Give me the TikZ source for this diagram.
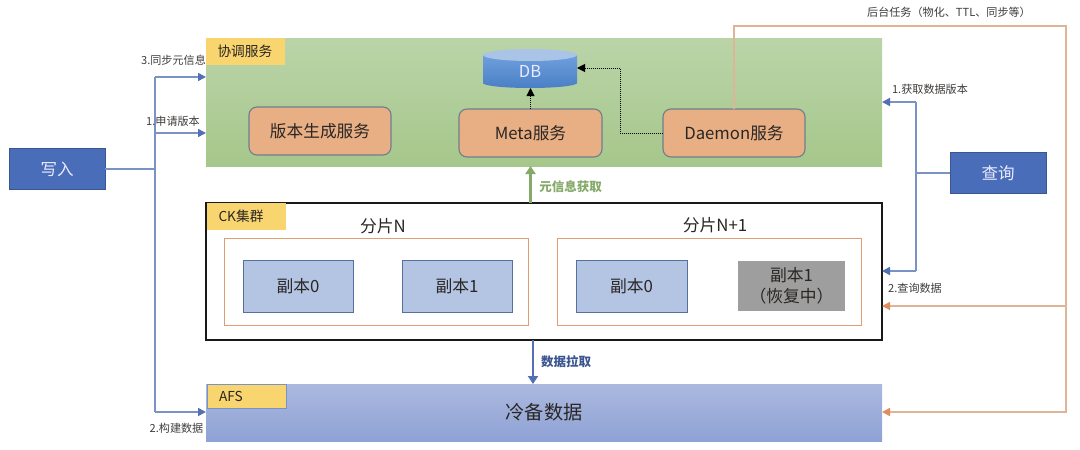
\documentclass[tikz,border=0pt]{standalone}
\usepackage{fontspec}
\setmainfont{Noto Sans CJK SC}
\usetikzlibrary{arrows.meta,calc}
\definecolor{txt}{HTML}{2A2624}
\definecolor{bluefill}{HTML}{4A6DB9}
\definecolor{bluedark}{HTML}{3A5590}
\definecolor{bluelink}{HTML}{7A93C6}
\definecolor{bluetip}{HTML}{5470B5}
\definecolor{orangelink}{HTML}{E0B496}
\definecolor{orangetip}{HTML}{DE8E5E}
\definecolor{tagfill}{HTML}{F9D570}
\definecolor{svcfill}{HTML}{E8AE84}
\definecolor{svcline}{HTML}{6F7F8E}
\definecolor{repfill}{HTML}{B4C5E4}
\definecolor{repline}{HTML}{54709E}
\definecolor{greenlink}{HTML}{84A968}
\definecolor{greentop}{HTML}{BAD4A8}
\definecolor{greenbot}{HTML}{A6C78B}
\definecolor{afstop}{HTML}{ABB9DF}
\definecolor{afsbot}{HTML}{8FA2D5}
\definecolor{dbA}{HTML}{6F9FDC}
\definecolor{dbB}{HTML}{4A7FC6}
\definecolor{dbC}{HTML}{A9C4E6}
\tikzset{
  box/.style={inner sep=0pt,outer sep=0pt,text=txt,align=center},
  actor/.style={box,fill=bluefill,draw=bluedark,line width=1pt,text=white!92!blue,font=\fontsize{16.5}{20}\selectfont,minimum width=96pt,minimum height=41pt},
  zone/.style={box,minimum width=676pt},
  tagbox/.style={box,fill=tagfill,align=left,inner xsep=11.5pt,text width=56pt,font=\fontsize{13.7}{16}\selectfont},
  svc/.style={box,fill=svcfill,draw=svcline,line width=1.1pt,rounded corners=8pt,minimum width=142pt,minimum height=48pt,font=\fontsize{16.7}{20}\selectfont},
  shard/.style={box,draw=orangetip!60!orangelink,line width=.9pt,minimum width=304pt,minimum height=87pt},
  rep/.style={box,fill=repfill,draw=repline,line width=1pt,minimum width=110pt,minimum height=52pt,font=\fontsize{16.8}{20}\selectfont},
  title/.style={font=\fontsize{16.8}{20}\selectfont,text=txt,inner sep=0pt},
  lbl/.style={inner sep=0pt,outer sep=0pt,text=txt!90!white,font=\fontsize{11.1}{13}\selectfont},
  bluearrow/.style={draw=bluelink,line width=1.6pt,-{Triangle[length=8pt,width=8pt,color=bluetip]}},
  blueline/.style={draw=bluelink,line width=2pt},
  orangearrow/.style={draw=orangelink,line width=1.5pt,-{Triangle[length=8pt,width=8pt,color=orangetip]}},
  dotarrow/.style={draw=black,line width=1pt,densely dotted,-{Triangle[length=8pt,width=8pt]}},
}
\begin{document}
\begin{tikzpicture}[x=1pt,y=-1pt]
\useasboundingbox (0,0) rectangle (1080,450);
% zones
\node[zone,minimum height=128pt,top color=greentop,bottom color=greenbot] (coord) at (544,102) {};
\node[tagbox,minimum height=27pt] (coordtag) at (245.5,51.5) {协调服务};
\node[zone,minimum height=137pt,fill=white,draw=black!90,line width=1.2pt] (ck) at (544,271.5) {};
\node[tagbox,minimum height=27pt] (cktag) at (246.5,216.5) {CK集群};
\node[zone,minimum height=57pt,top color=afstop,bottom color=afsbot] (afs) at (544,412.5) {\fontsize{19.2}{23}\selectfont 冷备数据};
\node[tagbox,minimum height=24pt,draw=bluelink,line width=.8pt] (afstag) at (247,396) {AFS};
% actors
\node[actor] (write) at (57,169) {写入};
\node[actor] (query) at (998,173) {查询};
% services
\node[svc] (ver) at (320,131) {版本生成服务};
\node[svc,minimum width=143pt] (meta) at (530.5,133) {Meta服务};
\node[svc] (daemon) at (734,133) {Daemon服务};
% DB
\shade[top color=dbA,bottom color=dbB] (483,55) -- (483,83) arc[start angle=180,end angle=360,x radius=47pt,y radius=5pt] -- (577,55) -- cycle;
\fill[dbC] (530,55) ellipse[x radius=47pt,y radius=6pt];
\node[box,text=white!92!blue,font=\fontsize{16.5}{20}\selectfont,minimum width=94pt,minimum height=34pt] (db) at (530,71) {DB};
% shards
\node[title] (titleN) at (383,226) {分片N};
\node[title] (titleM) at (715,225) {分片N+1};
\node[shard] (sN) at (376,281.5) {};
\node[shard] (sM) at (709,281.5) {};
\node[rep] (r0) at (298,286) {副本0};
\node[rep] (r1) at (457,286) {副本1};
\node[rep,minimum width=111pt] (r2) at (631.5,286) {副本0};
\node[box,fill=black!38,minimum width=107pt,minimum height=50pt,font=\fontsize{16.8}{21}\selectfont] (r3) at (791.5,286) {副本1\\（恢复中）};
% write connectors
\coordinate (jw) at (155,169);
\coordinate (p3) at (206,77);
\coordinate (p1) at (206,133);
\coordinate (p2) at (206,412);
\draw[blueline] (write.east) -- (jw);
\draw[blueline,line width=1.6pt] (jw |- p3) -- (jw |- p2);
\draw[bluearrow] (jw |- p3) -- (p3);
\draw[bluearrow] (jw |- p1) -- (p1);
\draw[bluearrow] (jw |- p2) -- (p2);
% query connectors
\coordinate (jq) at (916,173);
\coordinate (q1) at (882,102);
\coordinate (q2) at (882,271);
\draw[blueline] (query.west) -- (jq);
\draw[blueline,line width=1.6pt] (jq |- q1) -- (jq |- q2);
\draw[bluearrow] (jq |- q1) -- (q1);
\draw[bluearrow] (jq |- q2) -- (q2);
% daemon background line
\coordinate (otr) at (1066,26);
\coordinate (obr) at (1066,412);
\coordinate (obm) at (1065,306);
\coordinate (oa) at (882,412);
\coordinate (om) at (882,306);
\draw[orangearrow] (daemon.north) |- (otr) -- (obr) -- (oa);
\draw[orangearrow,line width=1.2pt] (obm) -- (om);
% inner
\draw[dotarrow] (meta.north) -- (db.south -| meta.north);
\coordinate (bend) at (620,68);
\coordinate (dbe) at (577,68);
\draw[dotarrow] (daemon.west) -| (bend) -- (dbe);
% vertical thick arrows
\draw[draw=greenlink,line width=2.6pt,-{Triangle[length=8pt,width=10pt]}] (ck.north -| meta.north) -- (coord.south -| meta.north);
\coordinate (pullx) at (533,340);
\coordinate (pully) at (533,384);
\draw[draw=bluetip,line width=2.6pt,-{Triangle[length=8pt,width=10pt]}] (pullx) -- (pully);
% labels
\node[lbl] (l1) at (173.5,60) {3.同步元信息};
\node[lbl] (l2) at (173,121) {1.申请版本};
\node[lbl] (l3) at (176.5,428) {2.构建数据};
\node[lbl] (l4) at (930,89.5) {1.获取数据版本};
\node[lbl] (l5) at (915,288.5) {2.查询数据};
\node[lbl] (l6) at (949,12) {后台任务（物化、TTL、同步等）};
\node[lbl,text=greenlink,font=\fontsize{12.5}{15}\bfseries\selectfont] (l7) at (570.5,186.5) {元信息获取};
\node[lbl,text=bluedark,font=\fontsize{12.5}{15}\bfseries\selectfont] (l8) at (566,361.5) {数据拉取};
\end{tikzpicture}
\end{document}
